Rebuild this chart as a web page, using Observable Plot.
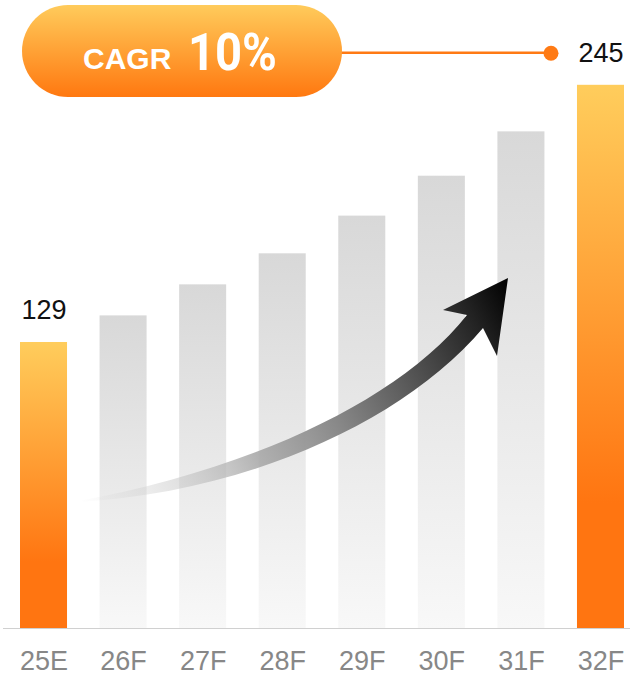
<!DOCTYPE html>
<html><head><meta charset="utf-8">
<script src="https://cdn.jsdelivr.net/npm/d3@7"></script>
<script src="https://cdn.jsdelivr.net/npm/@observablehq/plot@0.6"></script>
<style>html,body{margin:0;padding:0;background:#fff;} #chart{width:630px;height:677px;}</style>
</head><body><div id="chart"></div>
<script>
// ---- data ----
const years = ["25E","26F","27F","28F","29F","30F","31F","32F"];
const values = [129, 141, 155, 169, 186, 204, 224, 245];
const highlighted = ["25E", "32F"];
const cagrLabel = "CAGR";
const cagrValue = "10%";

const data = years.map((year, i) => ({year, value: values[i], hi: highlighted.includes(year)}));

const W = 630, H = 677;
const yDomain = [0, 283.25], yRange = [628, 0];
const font = "'Liberation Sans', Arial, sans-serif";

const plot = Plot.plot({
  width: W, height: H,
  marginLeft: 3, marginRight: 0, marginTop: 0, marginBottom: 49,
  style: {background: "transparent", fontFamily: font, overflow: "visible"},
  x: {domain: years, range: [20, 624], paddingInner: 0.409, paddingOuter: 0, round: false, label: null},
  y: {domain: yDomain, range: yRange, axis: null},
  marks: [
    Plot.barY(data.filter(d => !d.hi), {x: "year", y: "value", fill: "url(#gGray)"}),
    Plot.barY(data.filter(d => d.hi), {x: "year", y: "value", fill: "url(#gOrange)"}),
    Plot.ruleY([0], {stroke: "#d0d0d0", strokeWidth: 1.2}),
    Plot.axisX({tickSize: 0, tickPadding: 22, fontSize: 27, color: "#878787", label: null}),
    Plot.text(data.filter(d => d.hi), {x: "year", y: "value", text: d => String(d.value), dy: -32, fontSize: 27, fill: "#111", lineAnchor: "middle"}),
    Plot.dot(data.filter(d => d.year === "32F"), {x: "year", y: "value", dx: -50, dy: -32, r: 7.5, fill: "#ff7a14", stroke: "none"})
  ]
});

const svg = d3.select(plot);
const defs = svg.insert("defs", ":first-child");
function vgrad(id, stops) {
  const g = defs.append("linearGradient").attr("id", id).attr("x1", 0).attr("y1", 0).attr("x2", 0).attr("y2", 1);
  stops.forEach(([o, c, op]) => g.append("stop").attr("offset", o).attr("stop-color", c).attr("stop-opacity", op == null ? 1 : op));
}
vgrad("gGray", [[0, "#d8d8d8"], [1, "#f8f8f8"]]);
vgrad("gOrange", [[0, "#ffcd5c"], [0.77, "#ff7511"], [1, "#ff7511"]]);
vgrad("gPill", [[0, "#ffcb5b"], [1, "#ff7810"]]);
const ag = defs.append("linearGradient").attr("id", "gArrow").attr("gradientUnits", "userSpaceOnUse")
  .attr("x1", 78).attr("y1", 500).attr("x2", 508).attr("y2", 278);
[[0, "#d0d0d0", 0], [0.2, "#c4c4c4", 0.5], [0.37, "#aaaaaa", 0.9], [0.55, "#888888", 1], [0.73, "#555555", 1], [0.9, "#222222", 1], [1, "#000000", 1]]
  .forEach(([o, c, op]) => ag.append("stop").attr("offset", o).attr("stop-color", c).attr("stop-opacity", op));

// y helper from declared scale
const yPx = v => yRange[0] + (v - yDomain[0]) / (yDomain[1] - yDomain[0]) * (yRange[1] - yRange[0]);
const labelY = yPx(values[values.length - 1]) - 32;

// growth arrow (decoration)
svg.append("path")
  .attr("d", "M78,501 C250,470 400,400 467,315 L443,310 L508,278 L497,356 L483,328 C405,420 250,492 78,502 Z")
  .attr("fill", "url(#gArrow)");

// connector line from pill to the 32F dot
svg.insert("line", "g[aria-label='dot']")
  .attr("x1", 340).attr("x2", 551).attr("y1", labelY).attr("y2", labelY)
  .attr("stroke", "#ff7a14").attr("stroke-width", 2.5);

// CAGR pill
const pill = svg.append("g").attr("text-anchor", "start");
pill.append("rect").attr("x", 22).attr("y", 5).attr("width", 320).attr("height", 92).attr("rx", 46).attr("fill", "url(#gPill)");
pill.append("text").attr("x", 83).attr("y", 69).attr("text-anchor", "start").attr("font-family", font).attr("font-weight", 700)
  .attr("font-size", 30).attr("fill", "#fff").text(cagrLabel);
pill.append("text").attr("x", 188).attr("y", 70).attr("text-anchor", "start").attr("font-family", "Roboto, " + font).attr("font-weight", 700)
  .attr("font-size", 51).attr("fill", "#fff").attr("textLength", 89).attr("lengthAdjust", "spacingAndGlyphs").text(cagrValue);

document.getElementById("chart").appendChild(plot);
</script>
</body></html>
